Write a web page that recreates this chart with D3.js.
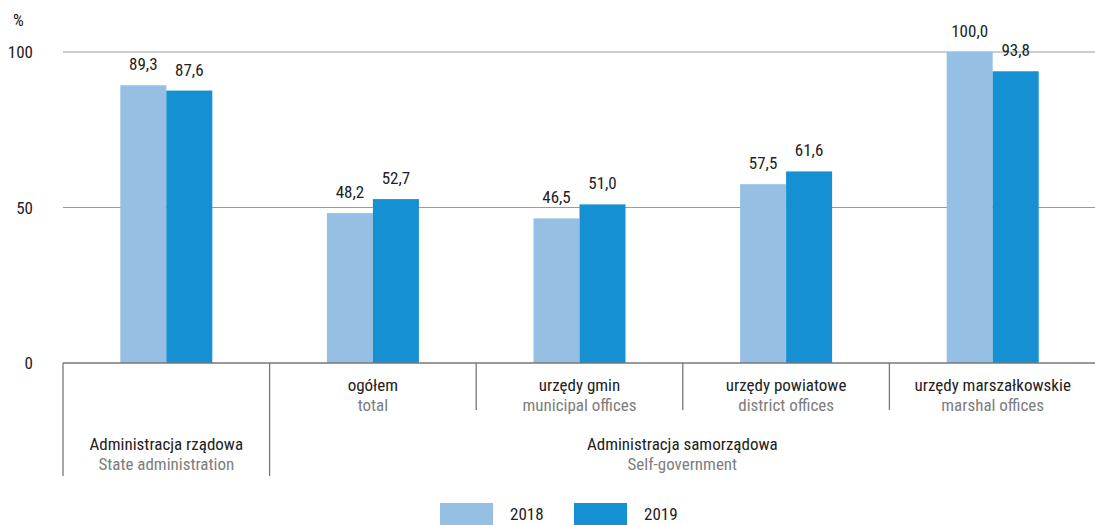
<!DOCTYPE html>
<html><head><meta charset="utf-8">
<script src="https://cdn.jsdelivr.net/npm/d3@7"></script>
<style>
body{margin:0;background:#fff;}
text{font-family:"Liberation Sans Narrow","Roboto Condensed","Liberation Sans",sans-serif;}
</style></head>
<body><svg id="c" width="1095" height="525"></svg>
<script>
const categories = ["rz", "og", "gm", "pw", "ms"];
const catPl = ["", "ogółem", "urzędy gmin", "urzędy powiatowe", "urzędy marszałkowskie"];
const catEn = ["", "total", "municipal offices", "district offices", "marshal offices"];
const series = ["2018", "2019"];
const values2018 = [89.3, 48.2, 46.5, 57.5, 100.0];
const values2019 = [87.6, 52.7, 51.0, 61.6, 93.8];
const yTicks = [0, 50, 100];
const groupsPl = ["Administracja rządowa", "Administracja samorządowa"];
const groupsEn = ["State administration", "Self-government"];
const colors = ["#95bfe3", "#1591d3"];

const svg = d3.select("#c");
const x0 = 63, x1 = 1095;
const y = d3.scaleLinear().domain([0, 100]).range([363, 52]);
const x = d3.scaleBand().domain(categories).range([x0, x1 + 1]).paddingInner(0).paddingOuter(0);
const xs = d3.scaleBand().domain(series).range([0, 92]);
const bw = x.bandwidth();
const fs = 17;

svg.append("g").selectAll("line").data(yTicks.filter(d => d > 0)).join("line")
  .attr("x1", x0).attr("x2", x1).attr("y1", d => y(d)).attr("y2", d => y(d))
  .attr("stroke", "#9a9a9a").attr("stroke-width", 1.2);
svg.append("g").selectAll("text").data(yTicks).join("text")
  .attr("x", 33).attr("y", d => y(d) + 6).attr("text-anchor", "end")
  .attr("font-size", fs).attr("fill", "#222").text(d => d);
svg.append("text").attr("x", 13).attr("y", 26).attr("font-size", 17).attr("fill", "#222").text("%");

const data = categories.map((c, i) => ({c, v: [values2018[i], values2019[i]]}));
const g = svg.append("g").selectAll("g").data(data).join("g")
  .attr("transform", d => `translate(${x(d.c) + bw / 2 - 46},0)`);
g.selectAll("rect").data(d => d.v.map((v, j) => ({v, s: series[j], j}))).join("rect")
  .attr("x", d => xs(d.s)).attr("width", xs.bandwidth())
  .attr("y", d => y(d.v)).attr("height", d => y(0) - y(d.v))
  .attr("fill", d => colors[d.j]);
g.selectAll("text").data(d => d.v.map((v, j) => ({v, s: series[j], j}))).join("text")
  .attr("x", d => xs(d.s) + xs.bandwidth() / 2).attr("y", d => y(d.v) - 15)
  .attr("text-anchor", "middle").attr("font-size", fs).attr("fill", "#222")
  .text(d => d3.format(".1f")(d.v).replace(".", ","));

svg.append("line").attr("x1", x0).attr("x2", x1).attr("y1", y(0)).attr("y2", y(0))
  .attr("stroke", "#777").attr("stroke-width", 1.3);

const dv = svg.append("g").attr("stroke", "#777").attr("stroke-width", 1.3);
dv.append("line").attr("x1", x0).attr("x2", x0).attr("y1", y(0)).attr("y2", 476);
dv.append("line").attr("x1", x(categories[1])).attr("x2", x(categories[1])).attr("y1", y(0)).attr("y2", 476);
dv.selectAll(".sd").data(categories.slice(2)).join("line").attr("class", "sd")
  .attr("x1", d => x(d)).attr("x2", d => x(d)).attr("y1", y(0)).attr("y2", 410);

categories.forEach((c, i) => {
  if (!catPl[i]) return;
  const cx = x(c) + bw / 2;
  svg.append("text").attr("x", cx).attr("y", 391).attr("text-anchor", "middle")
    .attr("font-size", fs).attr("fill", "#222").text(catPl[i]);
  svg.append("text").attr("x", cx).attr("y", 411).attr("text-anchor", "middle")
    .attr("font-size", fs).attr("fill", "#7d7d7d").text(catEn[i]);
});
const gcx = [x(categories[0]) + bw / 2, (x(categories[1]) + x1) / 2];
gcx.forEach((cx, i) => {
  svg.append("text").attr("x", cx).attr("y", 450).attr("text-anchor", "middle")
    .attr("font-size", fs).attr("fill", "#222").text(groupsPl[i]);
  svg.append("text").attr("x", cx).attr("y", 470).attr("text-anchor", "middle")
    .attr("font-size", fs).attr("fill", "#7d7d7d").text(groupsEn[i]);
});

const lg = svg.append("g").selectAll("g").data(series).join("g")
  .attr("transform", (d, i) => `translate(${440 + i * 134},503)`);
lg.append("rect").attr("width", 53).attr("height", 22).attr("fill", (d, i) => colors[i]);
lg.append("text").attr("x", 70).attr("y", 17).attr("font-size", fs).attr("fill", "#222").text(d => d);
</script></body></html>
